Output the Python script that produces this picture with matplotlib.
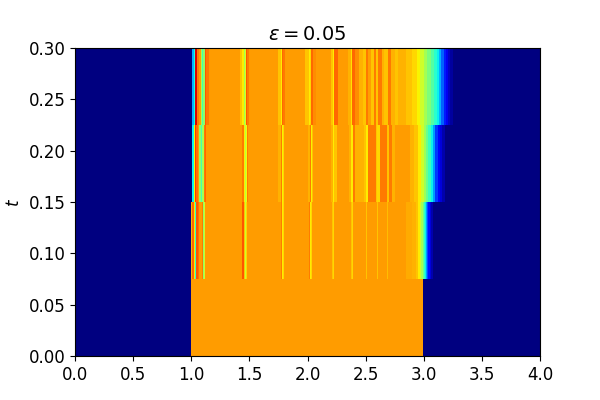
import matplotlib
matplotlib.use('Agg')
import matplotlib.pyplot as plt

# time slabs (bottom to top)
t_edges = [0.0, 0.075, 0.15, 0.225, 0.3]

x0 = [0.0, 1.0, 2.99, 4.0]
u0 = [0.0, 0.745, 0.0]

x1 = [0.0, 1.0, 1.01, 1.02, 1.03, 1.04, 1.06, 1.07, 1.09, 1.10, 1.11, 1.12, 1.44, 1.45, 1.46, 1.47, 1.48, 1.77, 1.78, 1.79, 1.80,
      2.01, 2.02, 2.03, 2.04, 2.21, 2.22, 2.23, 2.37, 2.38, 2.39, 2.50, 2.51, 2.60, 2.61, 2.68, 2.69, 2.85, 2.90, 2.93, 2.95, 2.97,
      2.98, 2.99, 3.00, 3.01, 3.02, 3.03, 3.04, 3.05, 3.06, 3.08, 4.0]
u1 = [0.0, 0.72, 0.80, 0.66, 0.42, 0.82, 0.79, 0.745, 0.78, 0.52, 0.60, 0.745, 0.82, 0.70, 0.60, 0.68, 0.745, 0.78, 0.66, 0.68, 0.745,
      0.78, 0.66, 0.68, 0.745, 0.70, 0.68, 0.745, 0.70, 0.68, 0.745, 0.70, 0.745, 0.70, 0.745, 0.71, 0.745, 0.73, 0.72, 0.70, 0.66, 0.60,
      0.55, 0.48, 0.42, 0.36, 0.28, 0.20, 0.14, 0.08, 0.04, 0.0]

x2 = [0.0, 1.01, 1.02, 1.03, 1.04, 1.06, 1.07, 1.08, 1.09, 1.11, 1.12, 1.13, 1.44, 1.45, 1.46, 1.47, 1.48, 1.49, 1.75, 1.77, 1.78, 1.79, 1.80,
      2.0, 2.02, 2.03, 2.04, 2.05, 2.20, 2.22, 2.23, 2.25, 2.36, 2.37, 2.39, 2.41, 2.49, 2.50, 2.52, 2.59, 2.60, 2.62, 2.68, 2.70, 2.73, 2.75,
      2.88, 2.92, 2.95, 2.98, 3.0, 3.02, 3.04, 3.06, 3.08, 3.10, 3.12, 3.14, 3.16, 3.18, 4.0]
u2 = [0.0, 0.36, 0.65, 0.85, 0.79, 0.745, 0.52, 0.44, 0.55, 0.78, 0.80, 0.745, 0.78, 0.66, 0.58, 0.64, 0.78, 0.745, 0.72, 0.78, 0.65, 0.68, 0.745,
      0.72, 0.78, 0.65, 0.70, 0.745, 0.72, 0.66, 0.70, 0.745, 0.72, 0.66, 0.78, 0.72, 0.70, 0.66, 0.78, 0.70, 0.68, 0.78, 0.70, 0.78, 0.72, 0.745,
      0.72, 0.70, 0.66, 0.60, 0.54, 0.48, 0.42, 0.36, 0.28, 0.18, 0.12, 0.08, 0.04, 0.0]

x3 = [0.0, 1.01, 1.02, 1.03, 1.05, 1.07, 1.08, 1.09, 1.10, 1.12, 1.13, 1.15, 1.42, 1.44, 1.45, 1.46, 1.47, 1.48, 1.50, 1.75, 1.77, 1.78, 1.79, 1.81, 1.83,
      1.98, 2.01, 2.02, 2.03, 2.05, 2.07, 2.20, 2.22, 2.23, 2.26, 2.35, 2.37, 2.38, 2.41, 2.44, 2.48, 2.50, 2.52, 2.55, 2.57, 2.59, 2.61, 2.64, 2.66, 2.69, 2.72, 2.75, 2.78,
      2.85, 2.90, 2.94, 2.97, 3.0, 3.03, 3.06, 3.09, 3.11, 3.13, 3.15, 3.17, 3.19, 3.21, 3.23, 3.25, 4.0]
u3 = [0.0, 0.30, 0.38, 0.92, 0.78, 0.745, 0.55, 0.44, 0.52, 0.82, 0.78, 0.745, 0.70, 0.66, 0.55, 0.62, 0.82, 0.78, 0.745, 0.70, 0.66, 0.80, 0.78, 0.745, 0.745,
      0.70, 0.66, 0.68, 0.80, 0.76, 0.745, 0.70, 0.66, 0.80, 0.745, 0.72, 0.67, 0.80, 0.76, 0.72, 0.70, 0.78, 0.74, 0.70, 0.78, 0.70, 0.78, 0.72, 0.70, 0.78, 0.72, 0.70, 0.72,
      0.70, 0.68, 0.65, 0.60, 0.55, 0.50, 0.45, 0.40, 0.36, 0.30, 0.22, 0.15, 0.10, 0.06, 0.03, 0.0]

xs = [x0, x1, x2, x3]
us = [u0, u1, u2, u3]

fig, ax = plt.subplots(figsize=(6, 4), dpi=100)
for i in range(4):
    ax.pcolormesh(xs[i], t_edges[i:i + 2], [us[i]], cmap='jet', vmin=0, vmax=1)

ax.set_xlim(0, 4)
ax.set_ylim(0, 0.3)
ax.set_xticks([0.0, 0.5, 1.0, 1.5, 2.0, 2.5, 3.0, 3.5, 4.0])
ax.set_yticks([0.0, 0.05, 0.1, 0.15, 0.2, 0.25, 0.3])
ax.tick_params(labelsize=12)
ax.set_ylabel(r'$t$', fontsize=12)
ax.set_title(r'$\epsilon = 0.05$', fontsize=14)
fig.savefig('out.png')
